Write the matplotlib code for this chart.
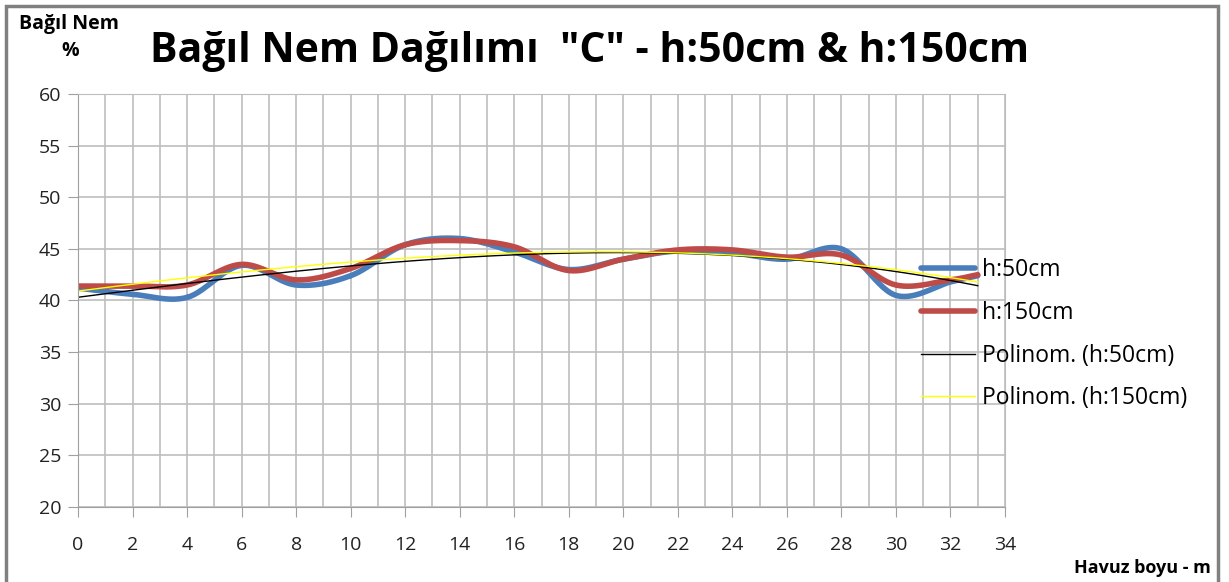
import numpy as np
import matplotlib.pyplot as plt
from matplotlib.patches import Rectangle

plt.rcParams['font.family'] = ['Open Sans', 'DejaVu Sans']

# veriler
x = [0, 2, 4, 6, 8, 10, 12, 14, 16, 18, 20, 22, 24, 26, 28, 30, 32, 33]
h50 = [41.2, 40.6, 40.3, 43.4, 41.5, 42.4, 45.4, 46.0, 44.7, 43.0, 44.0, 44.8, 44.6, 44.0, 45.0, 40.5, 41.8, 42.4]
h150 = [41.4, 41.4, 41.5, 43.5, 42.0, 43.1, 45.4, 45.8, 45.2, 42.9, 44.0, 44.9, 44.9, 44.2, 44.4, 41.5, 42.0, 42.5]
labels = ['h:50cm', 'h:150cm', 'Polinom. (h:50cm)', 'Polinom. (h:150cm)']


def smooth(xs, ys, n=30):
    # excel tarzi yumusak cizgi (catmull-rom)
    xs = np.asarray(xs, float)
    ys = np.asarray(ys, float)
    px = np.concatenate([[2 * xs[0] - xs[1]], xs, [2 * xs[-1] - xs[-2]]])
    py = np.concatenate([[2 * ys[0] - ys[1]], ys, [2 * ys[-1] - ys[-2]]])
    ox, oy = [], []
    t = np.linspace(0, 1, n)
    for i in range(1, len(px) - 2):
        for p, o in ((px, ox), (py, oy)):
            p0, p1, p2, p3 = p[i - 1], p[i], p[i + 1], p[i + 2]
            o.extend(0.5 * (2 * p1 + (-p0 + p2) * t + (2 * p0 - 5 * p1 + 4 * p2 - p3) * t ** 2
                            + (-p0 + 3 * p1 - 3 * p2 + p3) * t ** 3))
    return np.array(ox), np.array(oy)


fig = plt.figure(figsize=(12.29, 5.82), dpi=100)
ax = fig.add_axes([78 / 1229, 1 - 507 / 582, (1005 - 78) / 1229, (507 - 94) / 582])

sx, sy = smooth(x, h50)
ax.plot(sx, sy, color='#4a7ebb', lw=4, label=labels[0], solid_capstyle='round')
sx, sy = smooth(x, h150)
ax.plot(sx, sy, color='#be4b48', lw=4, label=labels[1], solid_capstyle='round')

xf = np.linspace(x[0], x[-1], 200)
ax.plot(xf, np.polyval(np.polyfit(x, h50, 3), xf), color='black', lw=1, label=labels[2])
ax.plot(xf, np.polyval(np.polyfit(x, h150, 3), xf), color='#ffff00', lw=1, label=labels[3])

ax.set_xlim(0, 34)
ax.set_ylim(20, 60)
ax.set_xticks(range(0, 35, 2))
ax.set_xticks(range(0, 35), minor=True)
ax.set_yticks(range(20, 61, 5))
ax.grid(True, which='both', color='#bdbdbd', lw=1.2)
ax.set_axisbelow(True)
for s in ax.spines.values():
    s.set_color('#a0a0a0')
ax.spines['top'].set_color('#bdbdbd')
ax.spines['right'].set_color('#bdbdbd')
ax.tick_params(which='major', length=7, color='#a0a0a0', labelsize=14, labelcolor='#222222', pad=5)
ax.tick_params(which='minor', length=0)
ax.tick_params(axis='x', pad=14)

leg = ax.legend(loc='upper left', bbox_to_anchor=(0.9, 0.625), frameon=False, fontsize=16.5,
                handlelength=2.35, labelspacing=0.82, handletextpad=0.3, borderaxespad=0)

fig.text(0.48, 0.912, 'Bağıl Nem Dağılımı  "C" - h:50cm & h:150cm', ha='center', va='center',
         fontsize=29.5, fontweight='bold')
fig.text(0.056, 0.958, 'Bağıl Nem', ha='center', va='center', fontsize=14, fontweight='bold')
fig.text(0.057, 0.912, '%', ha='center', va='center', fontsize=14, fontweight='bold')
fig.text(0.985, 0.024, 'Havuz boyu - m', ha='right', va='center', fontsize=13, fontweight='bold')

fig.patches.append(Rectangle((6 / 1229, -0.01), (1218 - 6) / 1229, 1 - 6 / 582 + 0.01,
                             transform=fig.transFigure, fill=False, ec='#808080', lw=2.5))

fig.savefig('out.png', dpi=100)
